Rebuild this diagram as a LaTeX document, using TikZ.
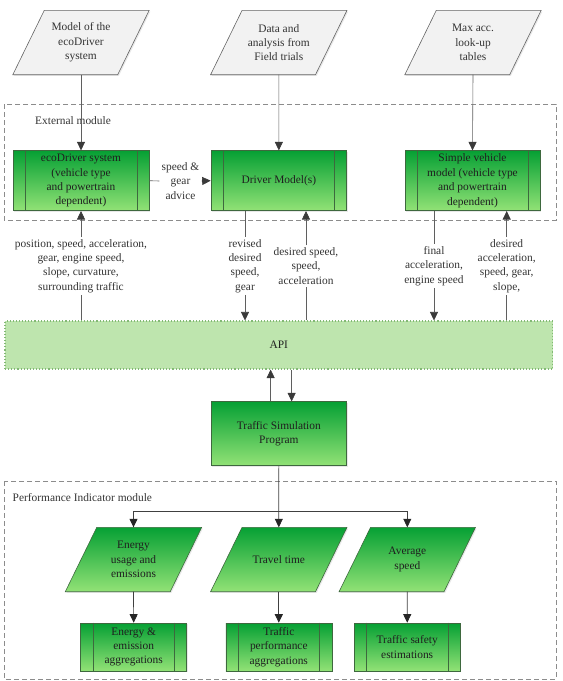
\documentclass[tikz,border=0pt]{standalone}
\usepackage{fontspec}
\setmainfont{Liberation Serif}
\usetikzlibrary{arrows.meta,shadows,backgrounds,calc}
\definecolor{gtop}{RGB}{6,160,52}
\definecolor{gbot}{RGB}{146,226,118}
\definecolor{gborder}{RGB}{62,104,62}
\definecolor{apifill}{RGB}{190,229,174}
\definecolor{apiborder}{RGB}{130,184,116}
\definecolor{parfill}{RGB}{242,242,242}
\definecolor{parborder}{RGB}{100,100,100}
\definecolor{linec}{RGB}{95,95,95}
\definecolor{tipc}{RGB}{58,58,58}
\definecolor{modc}{RGB}{140,140,140}
\newcommand\fs{\fontsize{11.4}{14.4}\selectfont}
\newcommand\pgram[2]{\path[#2] ([xshift=-15.75pt]#1.south west) -- ([xshift=15.75pt]#1.north west) -- ([xshift=15.75pt]#1.north east) -- ([xshift=-15.75pt]#1.south east) -- cycle;}
\begin{document}
\begin{tikzpicture}[x=1pt,y=-1pt,
  txt/.style={font=\fs, align=center, inner sep=0pt, text=black!88},
  lbl/.style={font=\fs, align=center, inner sep=2pt, text=black!80},
  shad/.style={drop shadow={opacity=0.18,shadow xshift=1.2pt,shadow yshift=-1.2pt}},
  gbox/.style={txt, draw=gborder, line width=0.6pt, top color=gtop, bottom color=gbot, shad},
  gpar/.style={draw=gborder, line width=0.6pt, top color=gtop, bottom color=gbot, shad},
  wpar/.style={draw=parborder, line width=0.6pt, fill=parfill, shad},
  pnode/.style={txt, minimum width=104.5pt, minimum height=64pt},
  inl/.style={draw=gborder, line width=0.6pt},
  conn/.style={draw=linec, line width=0.6pt},
  arr/.style={conn, -{Triangle[length=8.5pt,width=8pt,color=tipc]}},
  arrd/.style={draw=black!75, line width=0.7pt, -{Triangle[length=8.5pt,width=8pt,color=black!85]}},
  module/.style={draw=modc, line width=0.6pt, dash pattern=on 5pt off 3pt},
  apibox/.style={txt, draw=apiborder, line width=1.1pt, dotted, fill=apifill}
]
\useasboundingbox (0,0) rectangle (563,681);

% top inputs
\node[pnode, text=black!80] (t1) at (81,42.5) {Model of the\\ecoDriver\\system};
\node[pnode, text=black!80] (t2) at (278.8,42.5) {Data and\\analysis from\\Field trials};
\node[pnode, text=black!80] (t3) at (473,42.5) {Max acc.\\look-up\\tables};

% external module
\node[txt, anchor=west, text=black!80] (extlbl) at (35,121) {External module};
\node[gbox, minimum width=136pt, minimum height=60pt] (b1) at (81,180.7) {ecoDriver system\\(vehicle type\\and powertrain\\dependent)};
\node[gbox, minimum width=135.7pt, minimum height=60pt] (b2) at (278.85,180.7) {Driver Model(s)};
\node[gbox, minimum width=135pt, minimum height=60pt] (b3) at (472.5,180.7) {Simple vehicle\\model (vehicle type\\and powertrain\\dependent)};
\node[lbl] (sg) at (180.5,181) {speed \&\\gear\\advice};

% labels
\node[lbl] (L1) at (81,266) {position, speed, acceleration,\\gear, engine speed,\\slope, curvature,\\surrounding traffic};
\node[lbl] (L2) at (245,266) {revised\\desired\\speed,\\gear};
\node[lbl] (L3) at (306,266) {desired speed,\\speed,\\acceleration};
\node[lbl] (L4) at (434,266) {final\\acceleration,\\engine speed};
\node[lbl] (L5) at (506.7,266) {desired\\acceleration,\\speed, gear,\\slope,};

% API
\node[apibox, minimum width=547.7pt, minimum height=48pt] (api) at (278.85,345) {API};

% traffic simulation
\node[gbox, minimum width=135.7pt, minimum height=64pt] (tsp) at (278.85,433.7) {Traffic Simulation\\Program};

% performance module
\node[txt, anchor=west, text=black!80] (perflbl) at (12.5,498) {Performance Indicator module};
\node[pnode] (p1) at (133.5,559.5) {Energy\\usage and\\emissions};
\node[pnode] (p2) at (278.8,559.5) {Travel time};
\node[pnode] (p3) at (407.3,559.5) {Average\\speed};
\node[gbox, minimum width=106pt, minimum height=48pt] (r1) at (133.7,647) {Energy \&\\emission\\aggregations};
\node[gbox, minimum width=106pt, minimum height=48pt] (r2) at (278.8,647) {Traffic\\performance\\aggregations};
\node[gbox, minimum width=105.7pt, minimum height=48pt] (r3) at (407.2,647) {Traffic safety\\estimations};

% inner lines of process boxes
\foreach \n in {b1,b2,b3,r1,r2,r3}{
  \draw[inl] ([xshift=12.5pt]\n.north west) -- ([xshift=12.5pt]\n.south west);
  \draw[inl] ([xshift=-12.5pt]\n.north east) -- ([xshift=-12.5pt]\n.south east);
}

\begin{scope}[on background layer]
  \draw[module] (4,104) rectangle (556,220);
  \draw[module] (4,481) rectangle (556,679);
  \pgram{t1}{wpar}
  \pgram{t2}{wpar}
  \pgram{t3}{wpar}
  \pgram{p1}{gpar}
  \pgram{p2}{gpar}
  \pgram{p3}{gpar}
\end{scope}

% connectors
\draw[arr] (t1.south) -- (b1.north);
\draw[arr] (t2.south) -- (b2.north);
\draw[arr] (t3.south) -- (b3.north);
\draw[conn] (b1.east) -- (sg.west);
\draw[arr] (sg.east) -- (b2.west);

\draw[conn] (api.north -| L1) -- (L1.south);
\draw[arr] (L1.north) -- (b1.south -| L1);
\draw[conn] (b2.south -| L2) -- (L2.north);
\draw[arr] (L2.south) -- (api.north -| L2);
\draw[conn] (api.north -| L3) -- (L3.south);
\draw[arr] (L3.north) -- (b2.south -| L3);
\draw[conn] (b3.south -| L4) -- (L4.north);
\draw[arr] (L4.south) -- (api.north -| L4);
\draw[conn] (api.north -| L5) -- (L5.south);
\draw[arr] (L5.north) -- (b3.south -| L5);

\draw[arr] ([xshift=-8.2pt]tsp.north) -- ([xshift=-8.2pt]tsp.north |- api.south);
\draw[arr] ([xshift=12.8pt]tsp.north |- api.south) -- ([xshift=12.8pt]tsp.north);

\coordinate (sp) at (278.85,511.5);
\draw[arrd] (tsp.south) -- (p2.north);
\draw[arrd] (sp) -| (p1.north);
\draw[arrd] (sp) -| (p3.north);
\draw[arrd] (p1.south) -- (r1.north);
\draw[arrd] (p2.south) -- (r2.north);
\draw[arrd] (p3.south) -- (r3.north);
\end{tikzpicture}
\end{document}
